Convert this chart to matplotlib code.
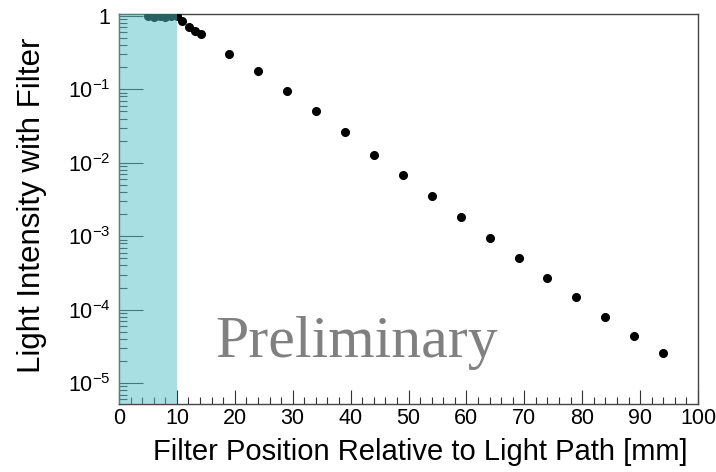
import matplotlib
matplotlib.use("Agg")
import matplotlib.pyplot as plt
from matplotlib.ticker import FixedLocator, MultipleLocator, LogLocator, NullFormatter

# filter position [mm] and relative light intensity
position = [5, 6, 7, 8, 9, 10, 10.9, 12.1, 13.1, 14.1,
            19, 24, 29, 34, 39, 44, 49, 54, 59, 64, 69, 74, 79, 84, 89, 94]
intensity = [0.99, 0.98, 0.99, 0.98, 0.99, 1.0, 0.857, 0.71, 0.62, 0.56,
             0.302, 0.176, 0.095, 0.0507, 0.026, 0.0128, 0.0069, 0.0035,
             0.00183, 0.00095, 0.000507, 0.000274, 0.000149, 7.98e-05,
             4.4e-05, 2.56e-05]

band_lo, band_hi = 0, 10
ytick_vals = [1e-5, 1e-4, 1e-3, 1e-2, 1e-1, 1]
ytick_labels = ['$10^{-5}$', '$10^{-4}$', '$10^{-3}$', '$10^{-2}$', '$10^{-1}$', '1']

plt.rcParams['font.family'] = ['Liberation Sans', 'DejaVu Sans']
plt.rcParams['mathtext.fontset'] = 'custom'
plt.rcParams['mathtext.rm'] = 'Liberation Sans'
plt.rcParams['mathtext.it'] = 'Liberation Sans'

fig = plt.figure(figsize=(7.16, 4.72), dpi=100)
ax = fig.add_axes([119 / 716, 1 - 404 / 472, (698 - 119) / 716, (404 - 14) / 472])

ax.plot(position, intensity, 'o', color='black', markersize=5.5, zorder=3)
# half-transparent band drawn over the points, as in the reference
ax.axvspan(band_lo, band_hi, color='#52c0c8', alpha=0.5, lw=0, zorder=5)

ax.set_yscale('log')
ax.set_xlim(0, 100)
ax.set_ylim(5.2e-6, 1.06)

ax.xaxis.set_major_locator(MultipleLocator(10))
ax.xaxis.set_minor_locator(MultipleLocator(2))
ax.yaxis.set_major_locator(FixedLocator(ytick_vals))
ax.set_yticklabels(ytick_labels)
ax.yaxis.set_minor_locator(LogLocator(base=10, subs=range(2, 10)))
ax.yaxis.set_minor_formatter(NullFormatter())

ax.tick_params(axis='both', which='both', direction='in', top=False, right=False,
               color='#333333', width=0.8)
ax.tick_params(axis='x', which='major', length=10, labelsize=15.5, pad=3)
ax.tick_params(axis='x', which='minor', length=5)
ax.tick_params(axis='y', which='major', length=17, labelsize=15.5, pad=6)
ax.tick_params(axis='y', which='minor', length=6)
for s in ax.spines.values():
    s.set_color('#444444')
    s.set_linewidth(1.0)

ax.set_xlabel('Filter Position Relative to Light Path [mm]', fontsize=21)
ax.set_ylabel('Light Intensity with Filter', fontsize=22.5)
ax.xaxis.set_label_coords(0.52, -0.088)
ax.yaxis.set_label_coords(-0.125, 0.51)

ax.text(0.41, 0.12, 'Preliminary', transform=ax.transAxes, fontsize=43,
        family='Liberation Serif', color='#808080', ha='center', va='baseline')

fig.savefig('out.png', dpi=100)
